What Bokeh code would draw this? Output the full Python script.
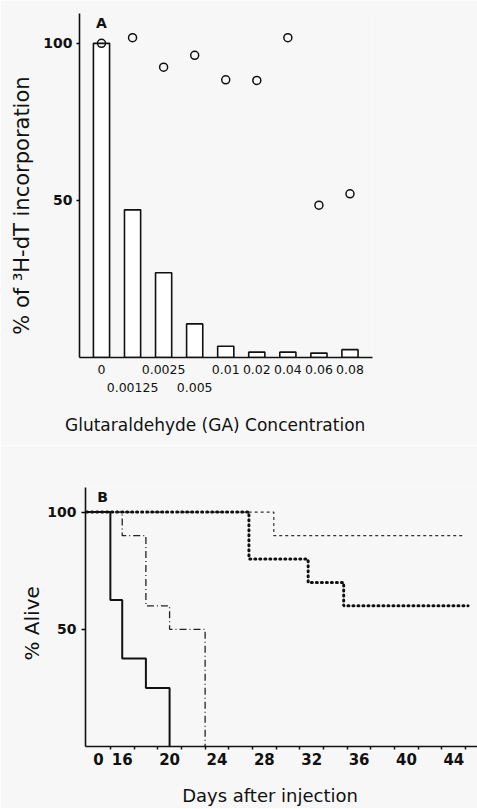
from bokeh.plotting import figure
from bokeh.models import (LinearAxis, FixedTicker, Range1d, Label, ColumnDataSource)
from bokeh.embed import file_html
from bokeh.resources import INLINE

# ---------------- Data: panel A ----------------
conc_labels = ["0", "0.00125", "0.0025", "0.005", "0.01", "0.02", "0.04", "0.06", "0.08"]
bar_values = [100, 47, 27, 10.7, 3.6, 1.7, 1.7, 1.4, 2.5]
circle_values = [100, 101.8, 92.4, 96.2, 88.4, 88.2, 101.8, 48.5, 52.1]
second_row = [1, 3]          # tick labels drawn on the lower row
y_ticks_a = [50, 100]

# ---------------- Data: panel B ----------------
# day positions (axis is broken: "0" sits just left of 16)
start_day = 13
solid_days = [start_day, 15, 16, 18, 20]
solid_alive = [100, 62.5, 37.5, 25, 0]
dashdot_days = [start_day, 16, 18, 20, 23]
dashdot_alive = [100, 90, 60, 50, 0]
dotted_days = [start_day, 26.7, 31.7, 34.7, 45.2]
dotted_alive = [100, 80, 70, 60, 60]
dashed_days = [start_day, 28.8, 44.8]
dashed_alive = [100, 90, 90]
x_tick_pos_b = [14, 16, 20, 24, 28, 32, 36, 40, 44]
x_tick_lab_b = ["0", "16", "20", "24", "28", "32", "36", "40", "44"]
x_minor_b = [15, 17, 19, 21, 23, 25, 27, 29, 31, 33, 35, 37, 39, 41, 43, 45]
y_ticks_b = [50, 100]

BG = "#f7f7f7"
FONT = "DejaVu Sans"
INK = "#111111"

# ================= Panel A =================
idx = list(range(len(conc_labels)))
pA = figure(width=477, height=445, output_backend="svg", toolbar_location=None,
            x_range=Range1d(-0.708, 8.725), y_range=Range1d(0, 109.5),
            min_border_left=79, min_border_right=105, min_border_top=13, min_border_bottom=88,
            background_fill_color=BG, border_fill_color=BG, outline_line_color=None)
pA.grid.visible = False

src_a = ColumnDataSource(dict(x=idx, top=bar_values, c=circle_values))
pA.vbar(x="x", top="top", width=0.52, source=src_a, fill_color="white",
        line_color=INK, line_width=1.6)
pA.scatter(x="x", y="c", source=src_a, marker="circle", size=8,
           fill_color=None, line_color=INK, line_width=1.5)

xa = pA.xaxis[0]
row1 = [i for i in idx if i not in second_row]
xa.ticker = FixedTicker(ticks=row1)
xa.major_label_overrides = {i: conc_labels[i] for i in row1}
xa.major_tick_line_color = None
xa.minor_tick_line_color = None
xa.major_tick_out = 0
xa.major_label_standoff = 7
xa.axis_line_width = 1.6
xa.axis_line_color = INK
xa.major_label_text_font = FONT
xa.major_label_text_font_size = "12.5px"
xa.major_label_text_color = INK

xa2 = LinearAxis(ticker=FixedTicker(ticks=second_row),
                 major_label_overrides={i: conc_labels[i] for i in second_row},
                 axis_line_color=None, major_tick_line_color=None,
                 minor_tick_line_color=None, major_tick_out=0,
                 major_label_standoff=6,
                 major_label_text_font=FONT, major_label_text_font_size="12.5px",
                 major_label_text_color=INK,
                 axis_label="Glutaraldehyde   (GA)   Concentration",
                 axis_label_text_font=FONT, axis_label_text_font_size="17px",
                 axis_label_text_font_style="normal", axis_label_text_color=INK,
                 axis_label_standoff=20)
pA.add_layout(xa2, "below")

ya = pA.yaxis[0]
ya.ticker = FixedTicker(ticks=y_ticks_a)
ya.minor_tick_line_color = None
ya.major_tick_out = 3
ya.major_tick_in = 0
ya.major_tick_line_width = 1.5
ya.axis_line_width = 1.6
ya.axis_line_color = INK
ya.major_label_standoff = 4
ya.major_label_text_font = FONT
ya.major_label_text_font_size = "14px"
ya.major_label_text_font_style = "bold"
ya.major_label_text_color = INK
ya.axis_label = "%   of   ³H-dT   incorporation"
ya.axis_label_text_font = FONT
ya.axis_label_text_font_size = "21px"
ya.axis_label_text_font_style = "normal"
ya.axis_label_text_color = INK
ya.axis_label_standoff = 6

pA.add_layout(Label(x=0, y=106.4, text="A", text_align="center", text_baseline="middle",
                    text_font=FONT, text_font_size="14px", text_font_style="bold",
                    text_color=INK))

# ================= Panel B =================
pB = figure(width=477, height=363, output_backend="svg", toolbar_location=None,
            x_range=Range1d(12.9, 46.0), y_range=Range1d(0, 110.5),
            min_border_left=85, min_border_right=0, min_border_top=42, min_border_bottom=56,
            background_fill_color=BG, border_fill_color=BG, outline_line_color=None)
pB.grid.visible = False

pB.step(dashed_days, dashed_alive, mode="after", line_color="#333333",
        line_width=1.2, line_dash="3 3")
pB.step(dotted_days, dotted_alive, mode="after", line_color=INK,
        line_width=3, line_dash="1 4", line_cap="round")
pB.step(dashdot_days, dashdot_alive, mode="after", line_color="#222222",
        line_width=1.3, line_dash="7 3 1 3")
pB.step(solid_days, solid_alive, mode="after", line_color=INK, line_width=2)

xb = pB.xaxis[0]
xb.ticker = FixedTicker(ticks=x_tick_pos_b, minor_ticks=x_minor_b)
xb.major_label_overrides = dict(zip(x_tick_pos_b, x_tick_lab_b))
xb.major_tick_line_color = None
xb.major_tick_out = 0
xb.minor_tick_out = 3
xb.minor_tick_in = 0
xb.minor_tick_line_width = 1.5
xb.minor_tick_line_color = INK
xb.axis_line_width = 1.6
xb.axis_line_color = INK
xb.major_label_standoff = 3
xb.major_label_text_font = FONT
xb.major_label_text_font_size = "15px"
xb.major_label_text_font_style = "bold"
xb.major_label_text_color = INK
xb.axis_label = "Days   after   injection"
xb.axis_label_text_font = FONT
xb.axis_label_text_font_size = "18px"
xb.axis_label_text_font_style = "normal"
xb.axis_label_text_color = INK
xb.axis_label_standoff = 17

yb = pB.yaxis[0]
yb.ticker = FixedTicker(ticks=y_ticks_b)
yb.minor_tick_line_color = None
yb.major_tick_out = 4
yb.major_tick_in = 0
yb.major_tick_line_width = 1.5
yb.axis_line_width = 1.6
yb.axis_line_color = INK
yb.major_label_standoff = 5
yb.major_label_text_font = FONT
yb.major_label_text_font_size = "14px"
yb.major_label_text_font_style = "bold"
yb.major_label_text_color = INK
yb.axis_label = "%   Alive"
yb.axis_label_text_font = FONT
yb.axis_label_text_font_size = "20px"
yb.axis_label_text_font_style = "normal"
yb.axis_label_text_color = INK
yb.axis_label_standoff = 0

pB.add_layout(Label(x=14.34, y=106.3, text="B", text_align="center", text_baseline="middle",
                    text_font=FONT, text_font_size="14px", text_font_style="bold",
                    text_color=INK))

open("out.html", "w").write(file_html([pA, pB], INLINE))
